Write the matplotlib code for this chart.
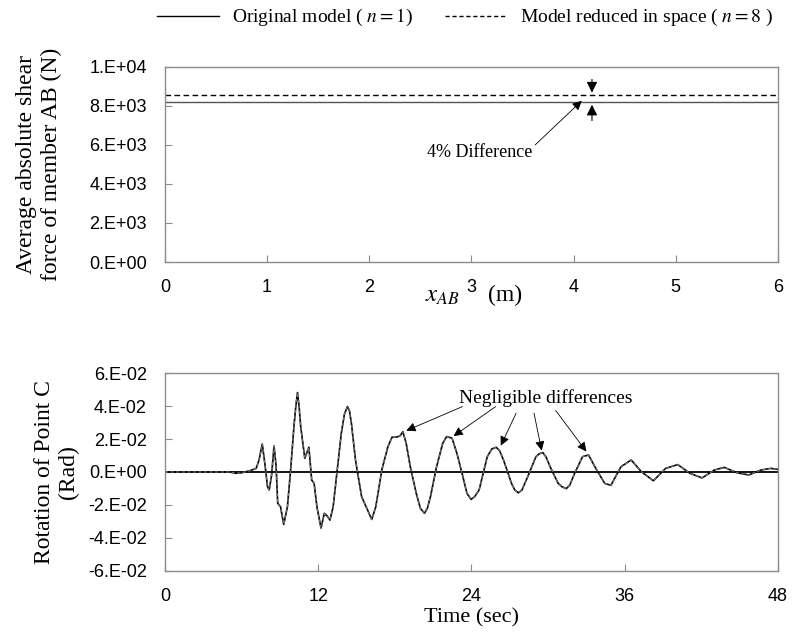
import matplotlib
matplotlib.use("Agg")
import matplotlib.pyplot as plt
from matplotlib.lines import Line2D

plt.rcParams['mathtext.fontset'] = 'stix'

# top panel: average absolute shear force along member AB
x_ab = [0, 6]
shear_original = [8200, 8200]
shear_reduced = [8540, 8540]

# bottom panel: rotation of point C (both models nearly identical)
time_s = [0, 2.86, 5.08, 5.56, 6.03, 6.67, 7.14, 7.37, 7.62, 7.84, 8.03, 8.16, 8.35,
          8.54, 8.70, 8.83, 9.05, 9.30, 9.59, 9.84, 10.10, 10.25, 10.38, 10.5, 10.63,
          10.95, 11.27, 11.49, 11.68, 11.90, 12.22, 12.48, 12.70, 12.92, 13.17, 13.49,
          13.81, 14.05, 14.29, 14.45, 14.60, 14.92, 15.40, 15.87, 16.19, 16.51, 16.98,
          17.46, 17.78, 18.10, 18.41, 18.63, 18.89, 19.21, 19.68, 20.0, 20.32, 20.55,
          20.79, 21.27, 21.75, 22.06, 22.48, 22.86, 23.33, 23.65, 23.97, 24.25, 24.60,
          25.24, 25.6, 25.94, 26.2, 26.51, 27.14, 27.4, 27.68, 27.95, 28.41, 29.05,
          29.3, 29.59, 29.85, 30.16, 30.79, 31.1, 31.43, 31.7, 32.06, 32.70, 33.17,
          33.81, 34.44, 34.92, 35.71, 36.51, 37.30, 38.25, 39.21, 40.16, 41.11, 42.06,
          43.02, 43.81, 44.76, 45.71, 46.67, 47.46, 48.0]
rot_original = [0, 0, 0, -0.0008, -0.0004, 0.0008, 0.0022, 0.0073, 0.0170, 0.0040,
                -0.0089, -0.0109, -0.0020, 0.0158, 0.0040, -0.0190, -0.0211, -0.0318,
                -0.0211, 0.0012, 0.0276, 0.0400, 0.0482, 0.0400, 0.0276, 0.0083,
                0.0150, -0.0049, -0.0069, -0.0211, -0.0340, -0.0251, -0.0267, -0.0292,
                -0.0211, 0.0012, 0.0235, 0.0350, 0.0397, 0.0370, 0.0296, 0.0073,
                -0.0150, -0.0231, -0.0288, -0.0211, 0.0012, 0.0154, 0.0211, 0.0211,
                0.0219, 0.0245, 0.0174, 0.0032, -0.0130, -0.0220, -0.0251, -0.0220,
                -0.0150, 0.0032, 0.0174, 0.0215, 0.0205, 0.0114, -0.0028, -0.0130,
                -0.0166, -0.0150, -0.0109, 0.0093, 0.0140, 0.0150, 0.0130, 0.0073,
                -0.0069, -0.0110, -0.0126, -0.0110, -0.0028, 0.0093, 0.0110, 0.0118,
                0.0090, 0.0032, -0.0069, -0.0090, -0.0101, -0.0080, -0.0012, 0.0093,
                0.0103, 0.0012, -0.0069, -0.0081, 0.0032, 0.0073, 0.0002, -0.0053,
                0.0022, 0.0045, -0.0008, -0.0036, 0.0012, 0.0028, -0.0004, -0.0018,
                0.0012, 0.0022, 0.0016]
rot_reduced = list(rot_original)  # negligible differences

top_yticks = [0, 2000, 4000, 6000, 8000, 10000]
top_ylabels = ['0.E+00', '2.E+03', '4.E+03', '6.E+03', '8.E+03', '1.E+04']
bot_xticks = [0, 12, 24, 36, 48]
bot_yticks = [-0.06, -0.04, -0.02, 0, 0.02, 0.04, 0.06]
bot_ylabels = ['-6.E-02', '-4.E-02', '-2.E-02', '0.E+00', '2.E-02', '4.E-02', '6.E-02']

serif = 'Liberation Serif'
sans = 'Liberation Sans'
spine_col = '#8c8c8c'

fig = plt.figure(figsize=(7.95, 6.4), dpi=100)
ax1 = fig.add_axes([0.2075, 0.5906, 0.771, 0.305])
ax2 = fig.add_axes([0.2075, 0.108, 0.771, 0.309])

for ax in (ax1, ax2):
    for s in ax.spines.values():
        s.set_color(spine_col)
        s.set_linewidth(1.0)
    ax.tick_params(direction='in', length=5, color=spine_col, labelsize=13)

# --- top panel
ax1.plot(x_ab, shear_original, color='#555555', lw=1.0)
ax1.plot(x_ab, shear_reduced, color='black', lw=1.0, ls=(0, (4, 2.5)))
ax1.set_xlim(0, 6)
ax1.set_ylim(0, 10000)
ax1.set_xticks(range(7))
ax1.set_xticklabels([str(v) for v in range(7)], family=sans)
ax1.set_yticks(top_yticks)
ax1.set_yticklabels(top_ylabels, family=sans)
ax1.tick_params(axis='x', pad=12)
ax1.tick_params(axis='y', pad=13)
# axis title split around the "3" tick label, as in the original figure
xlab_tr = ax1.get_xaxis_transform()
ax1.text(2.72, -0.175, '$x_{AB}$', transform=xlab_tr, fontsize=18,
         family=serif, ha='center', va='center')
ax1.text(3.33, -0.17, '(m)', transform=xlab_tr, fontsize=17,
         family=serif, ha='center', va='center')
ax1.set_ylabel('Average absolute shear\nforce of member AB (N)', fontsize=17,
               family=serif, linespacing=1.25)
ax1.yaxis.set_label_coords(-0.168, 0.5)

arrow_kw = dict(arrowstyle='-|>', color='black', lw=0.8, mutation_scale=16)
ax1.annotate('', xy=(4.18, shear_reduced[0]), xytext=(4.18, 9500), arrowprops=arrow_kw)
ax1.annotate('', xy=(4.18, shear_original[0]), xytext=(4.18, 7100), arrowprops=arrow_kw)
ax1.annotate('4% Difference', xy=(4.08, 8260), xytext=(3.08, 5600),
             fontsize=13, family=serif, ha='center', va='center',
             arrowprops=dict(arrowstyle='-|>', color='black', lw=0.6,
                             mutation_scale=14, shrinkA=0, shrinkB=0,
                             relpos=(1.0, 0.8)))

# --- bottom panel
ax2.axhline(0, color='black', lw=1.3)
ax2.plot(time_s, rot_original, color='black', lw=1.2)
ax2.plot(time_s, rot_reduced, color='#777777', lw=0.8, ls=(0, (3, 2)))
ax2.set_xlim(0, 48)
ax2.set_ylim(-0.06, 0.06)
ax2.set_xticks(bot_xticks)
ax2.set_xticklabels([str(v) for v in bot_xticks], family=sans)
ax2.set_yticks(bot_yticks)
ax2.set_yticklabels(bot_ylabels, family=sans)
ax2.tick_params(axis='x', pad=12)
ax2.tick_params(axis='y', pad=13)
ax2.set_xlabel('Time (sec)', fontsize=16, family=serif, labelpad=3)
ax2.set_ylabel('Rotation of Point C\n(Rad)', fontsize=17, family=serif,
               linespacing=1.2)
ax2.yaxis.set_label_coords(-0.140, 0.5)

ax2.text(29.8, 0.0448, 'Negligible differences', fontsize=14, family=serif,
         ha='center', va='center')
note_tails = [(23.3, 0.0397), (25.9, 0.0397), (27.5, 0.0357), (28.9, 0.0357), (30.6, 0.0373)]
note_heads = [(18.9, 0.0251), (22.6, 0.0218), (26.3, 0.0160), (29.5, 0.0130), (33.0, 0.0124)]
for tail, head in zip(note_tails, note_heads):
    ax2.annotate('', xy=head, xytext=tail,
                 arrowprops=dict(arrowstyle='-|>', color='black', lw=0.6,
                                 mutation_scale=14, shrinkA=0, shrinkB=0))

# legend
handles = [Line2D([], [], color='black', lw=1.0),
           Line2D([], [], color='black', lw=1.0, ls=(0, (3, 2)))]
labels = ['Original model ( $n=1$)', 'Model reduced in space ( $n=8$ )']
fig.legend(handles, labels, loc='center', bbox_to_anchor=(0.585, 0.972), ncol=2,
           frameon=False, prop={'family': serif, 'size': 14}, handlelength=3.2,
           columnspacing=1.6, handletextpad=0.7)

fig.savefig('out.png', dpi=100)
